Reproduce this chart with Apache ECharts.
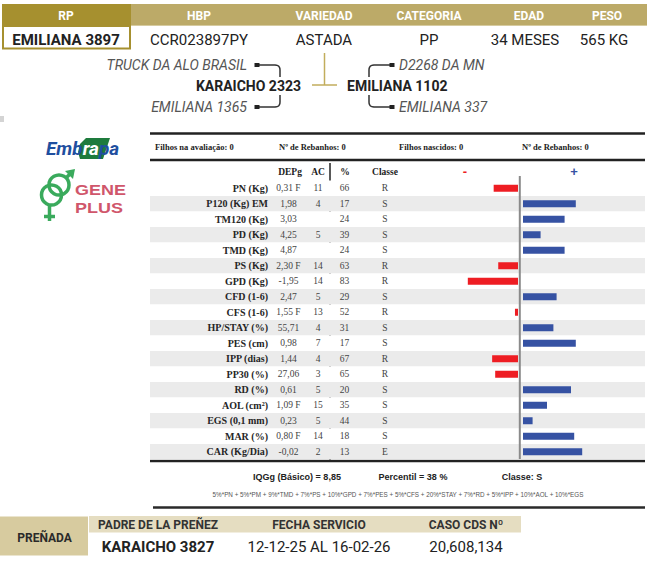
<!DOCTYPE html>
<html><head><meta charset="utf-8">
<script src="https://cdn.jsdelivr.net/npm/echarts@6/dist/echarts.min.js"></script>
<style>html,body{margin:0;padding:0;background:#fff}#c{width:672px;height:582px}</style>
</head><body><div id="c"></div>
<script>
// ---------- data ----------
const headerLabels = ['RP', 'HBP', 'VARIEDAD', 'CATEGORIA', 'EDAD', 'PESO'];
const headerValues = ['EMILIANA 3897', 'CCR023897PY', 'ASTADA', 'PP', '34 MESES', '565 KG'];
const sireSide = ['TRUCK DA ALO BRASIL', 'KARAICHO 2323', 'EMILIANA 1365'];
const damSide = ['D2268 DA MN', 'EMILIANA 1102', 'EMILIANA 337'];
const summaryItems = ['Filhos na avaliação: 0', 'Nº de Rebanhos: 0', 'Filhos nascidos: 0', 'Nº de Rebanhos: 0'];
const traits = ['PN (Kg)', 'P120 (Kg) EM', 'TM120 (Kg)', 'PD (Kg)', 'TMD (Kg)', 'PS (Kg)', 'GPD (Kg)', 'CFD (1-6)', 'CFS (1-6)', 'HP/STAY (%)', 'PES (cm)', 'IPP (dias)', 'PP30 (%)', 'RD (%)', 'AOL (cm²)', 'EGS (0,1 mm)', 'MAR (%)', 'CAR (Kg/Dia)'];
const depg = ['0,31 F', '1,98', '3,03', '4,25', '4,87', '2,30 F', '-1,95', '2,47', '1,55 F', '55,71', '0,98', '1,44', '27,06', '0,61', '1,09 F', '0,23', '0,80 F', '-0,02'];
const acc = ['11', '4', '', '5', '', '14', '14', '5', '13', '4', '7', '4', '3', '5', '15', '5', '14', '2'];
const pct = ['66', '17', '24', '39', '24', '63', '83', '29', '52', '31', '17', '67', '65', '20', '35', '44', '18', '13'];
const classe = ['R', 'S', 'S', 'S', 'S', 'R', 'R', 'S', 'R', 'S', 'S', 'R', 'R', 'S', 'S', 'S', 'S', 'E'];
// bar deviations (negative = red, positive = blue)
const barValues = [-16, 33, 26, 11, 26, -13, -33, 21, -2, 19, 33, -17, -15, 30, 15, 6, 32, 37];
const footerItems = ['IQGg (Básico) = 8,85', 'Percentil = 38 %', 'Classe: S'];
const formula = '5%*PN + 5%*PM + 9%*TMD + 7%*PS + 10%*GPD + 7%*PES + 5%*CFS + 20%*STAY + 7%*RD + 5%*IPP + 10%*AOL + 10%*EGS';
const pregLabels = ['PADRE DE LA PREÑEZ', 'FECHA SERVICIO', 'CASO CDS Nº'];
const pregValues = ['KARAICHO 3827', '12-12-25 AL 16-02-26', '20,608,134'];

// ---------- layout / style ----------
const SERIF = '"Liberation Serif", "Times New Roman", serif';
const SANS = 'Roboto, "Liberation Sans", Arial, sans-serif';
const ARIAL = '"Liberation Sans", Arial, sans-serif';
const TABLE_LEFT = 150, TABLE_RIGHT = 645, ROW_TOP = 180.5, ROW_H = 15.5;
const GOLD = '#bcaa68', GOLD_DARK = '#a6902f';

const chart = echarts.init(document.getElementById('c'), null, { renderer: 'svg' });

function txt(text, x, y, font, fill, align, extra) {
  return Object.assign({ type: 'text', silent: true, style: { text: text, x: x, y: y, font: font, fill: fill, textAlign: align || 'center', textVerticalAlign: 'middle' } }, extra || {});
}
function line(x1, y1, x2, y2, color, w) {
  return { type: 'line', silent: true, shape: { x1: x1, y1: y1, x2: x2, y2: y2 }, style: { stroke: color, lineWidth: w } };
}
function rect(x, y, w, h, fill, extra) {
  return Object.assign({ type: 'rect', silent: true, shape: { x: x, y: y, width: w, height: h }, style: { fill: fill } }, extra || {});
}
function bracket(pts, color) {
  return { type: 'polyline', silent: true, shape: { points: pts }, style: { stroke: color, lineWidth: 1.5, fill: null } };
}
function quad(a, c, b, n) {
  const out = [];
  for (let i = 0; i <= n; i++) {
    const t = i / n;
    out.push([(1 - t) * (1 - t) * a[0] + 2 * (1 - t) * t * c[0] + t * t * b[0], (1 - t) * (1 - t) * a[1] + 2 * (1 - t) * t * c[1] + t * t * b[1]]);
  }
  return out;
}

const g = [];
// header band
g.push(rect(3, 4, 644, 22, GOLD));
g.push(line(131, 25.5, 647, 25.5, '#d6cba0', 1));
g.push(rect(2, 4, 129, 45.5, GOLD_DARK));
g.push(rect(4, 27, 125, 20.5, '#ffffff'));
const headX = [66, 199, 324, 429, 529, 607];
const valX = [66, 199, 324, 429, 525, 604];
headerLabels.forEach((t, i) => g.push(txt(t, headX[i], 16, 'bold 12px ' + SANS, '#ffffff')));
headerValues.forEach((t, i) => g.push(txt(t, valX[i], 40, (i === 0 ? 'bold 15px ' : '15px ') + SANS, '#222')));

// pedigree
g.push(txt(sireSide[0], 247, 65, 'italic 14px ' + SANS, '#555', 'right'));
g.push(txt(sireSide[1], 301, 86, 'bold 14px ' + SANS, '#222', 'right'));
g.push(txt(sireSide[2], 247, 107, 'italic 14px ' + SANS, '#555', 'right'));
g.push(txt(damSide[0], 399, 65, 'italic 14px ' + SANS, '#555', 'left'));
g.push(txt(damSide[1], 347, 86, 'bold 14px ' + SANS, '#222', 'left'));
g.push(txt(damSide[2], 399, 107, 'italic 14px ' + SANS, '#555', 'left'));
g.push(bracket([[258, 65]].concat(quad([275, 65], [280, 65], [280, 70], 6), [[280, 77]]), '#333'));
g.push(bracket([[258, 107]].concat(quad([275, 107], [280, 107], [280, 102], 6), [[280, 95]]), '#333'));
g.push(bracket([[391, 65]].concat(quad([374, 65], [369, 65], [369, 70], 6), [[369, 77]]), '#333'));
g.push(bracket([[391, 107]].concat(quad([374, 107], [369, 107], [369, 102], 6), [[369, 95]]), '#333'));
[[254.5, 63], [254.5, 105], [389.5, 63], [389.5, 105]].forEach(p => g.push(rect(p[0], p[1], 5, 4, '#222')));
g.push(line(324.5, 53, 324.5, 85, '#c2ad5c', 1.5));
g.push(line(312, 85, 337, 85, '#c2ad5c', 1.5));

// small grey mark
g.push(rect(0, 116, 4, 6, '#d4d4d4'));

// Embrapa logo
g.push({ type: 'polygon', silent: true, shape: { points: [[86, 138], [110, 138], [103, 159], [80, 159], [78, 152], [80, 144]] }, style: { fill: '#1e7b3d' } });
g.push({ type: 'text', silent: true, style: { text: '{b|Emb}{w|ra}{b|pa}', x: 46, y: 148, font: 'italic bold 19px ' + SANS, textAlign: 'left', textVerticalAlign: 'middle', rich: { b: { fill: '#1f4f9f', font: 'italic bold 19px ' + SANS }, w: { fill: '#ffffff', font: 'italic bold 19px ' + SANS } } } });

// GenePlus logo
const GP = '#3aaa5c';
g.push({ type: 'circle', silent: true, shape: { cx: 59, cy: 185, r: 10 }, style: { stroke: GP, lineWidth: 3.5, fill: null } });
g.push({ type: 'circle', silent: true, shape: { cx: 51.5, cy: 195, r: 10 }, style: { stroke: GP, lineWidth: 3.5, fill: null } });
g.push(line(66, 178, 71, 173, GP, 3.5));
g.push({ type: 'polygon', silent: true, shape: { points: [[75, 169], [65, 171], [73, 179]] }, style: { fill: GP } });
g.push(line(49.5, 205, 49.5, 221, GP, 3.5));
g.push(line(44, 216.5, 55, 216.5, GP, 3.5));
g.push(txt('GENE', 75, 190, 'bold 15px ' + ARIAL, '#d0566b', 'left', { scaleX: 1.2, originX: 75, originY: 190 }));
g.push(txt('PLUS', 75, 208, 'bold 15px ' + ARIAL, '#d0566b', 'left', { scaleX: 1.2, originX: 75, originY: 208 }));

// table frame
g.push(line(TABLE_LEFT, 133.5, TABLE_RIGHT, 133.5, '#222', 2.5));
g.push(line(TABLE_LEFT, 160, TABLE_RIGHT, 160, '#222', 2.5));
const sumX = [155, 279, 399, 522];
summaryItems.forEach((t, i) => g.push(txt(t, sumX[i], 146.5, 'bold 8.5px ' + SERIF, '#222', 'left')));
g.push(txt('DEPg', 290, 172, 'bold 9.5px ' + SERIF, '#222'));
g.push(txt('AC', 318, 172, 'bold 9.5px ' + SERIF, '#222'));
g.push(txt('%', 345, 172, 'bold 9.5px ' + SERIF, '#222'));
g.push(txt('Classe', 385, 172, 'bold 9.5px ' + SERIF, '#222'));
g.push(txt('-', 465, 171, 'bold 13px ' + ARIAL, '#ee1d23'));
g.push(txt('+', 574, 171, 'bold 13px ' + ARIAL, '#3652a3'));
g.push(line(330, 163, 330, 460, '#222', 1.5));
g.push(Object.assign(line(519.8, 176, 519.8, 459, '#8a8a8a', 2), { z: 100 }));
g.push(line(TABLE_LEFT, 461, TABLE_RIGHT, 461, '#222', 2.5));
const footX = [297, 413, 522];
footerItems.forEach((t, i) => g.push(txt(t, footX[i], 477, 'bold 9px ' + ARIAL, '#222')));
g.push(txt(formula, 398, 494.5, '6.3px ' + ARIAL, '#555'));
g.push(line(153, 507.5, TABLE_RIGHT, 507.5, '#2a2a2a', 2.5));

// pregnancy block
g.push(rect(0, 516.5, 88, 39, '#d7cb9f'));
g.push(txt('PREÑADA', 44.5, 537.5, 'bold 12px ' + SANS, '#2a2a2a'));
g.push(rect(89, 516, 432, 16.5, '#e5ddc1'));
const pregX = [158, 319, 466];
pregLabels.forEach((t, i) => g.push(txt(t, pregX[i], 525, 'bold 12px ' + SANS, '#333')));
pregValues.forEach((t, i) => g.push(txt(t, pregX[i], 546.5, (i === 0 ? 'bold 15px ' : '15px ') + SANS, '#222')));

// ---------- chart (table text columns + bars via axes) ----------
function colAxis(cx, vals, font, color) {
  return {
    gridIndex: 0, type: 'category', data: traits, inverse: true, position: 'left',
    offset: -(cx - TABLE_LEFT),
    axisLine: { show: false }, axisTick: { show: false }, splitLine: { show: false },
    axisLabel: { interval: 0, margin: 0, align: 'center', formatter: (v, i) => vals[i], fontFamily: SERIF, fontSize: font.size, fontWeight: font.weight, color: color }
  };
}
const gridH = ROW_H * traits.length;
const option = {
  backgroundColor: '#ffffff',
  animation: false,
  grid: [
    { left: TABLE_LEFT, top: ROW_TOP, width: TABLE_RIGHT - TABLE_LEFT, height: gridH },
    { left: 438, top: ROW_TOP, width: 80, height: gridH },
    { left: 523, top: ROW_TOP, width: 80, height: gridH }
  ],
  xAxis: [
    { gridIndex: 0, type: 'value', min: 0, max: 1, show: false },
    { gridIndex: 1, type: 'value', min: -52.6, max: 0, show: false },
    { gridIndex: 2, type: 'value', min: 0, max: 50, show: false }
  ],
  yAxis: [
    {
      gridIndex: 0, type: 'category', data: traits, inverse: true, position: 'left',
      offset: -(268 - TABLE_LEFT),
      axisLine: { show: false }, axisTick: { show: false }, splitLine: { show: false },
      splitArea: { show: true, areaStyle: { color: ['#ffffff', '#ebebeb'] } },
      axisLabel: { interval: 0, margin: 0, align: 'right', fontFamily: SERIF, fontSize: 10, fontWeight: 'bold', color: '#262626' }
    },
    colAxis(288.5, depg, { size: 9.5, weight: 'normal' }, '#444'),
    colAxis(318, acc, { size: 9.5, weight: 'normal' }, '#444'),
    colAxis(344.5, pct, { size: 9.5, weight: 'normal' }, '#444'),
    colAxis(385, classe, { size: 9.5, weight: 'normal' }, '#444'),
    { gridIndex: 1, type: 'category', data: traits, inverse: true, show: false },
    { gridIndex: 2, type: 'category', data: traits, inverse: true, show: false }
  ],
  series: [
    { type: 'scatter', xAxisIndex: 0, yAxisIndex: 0, data: [], silent: true },
    {
      type: 'bar', xAxisIndex: 1, yAxisIndex: 5, barWidth: 7, silent: true,
      itemStyle: { color: '#ee1d23' },
      data: barValues.map(v => (v < 0 ? v : '-'))
    },
    {
      type: 'bar', xAxisIndex: 2, yAxisIndex: 6, barWidth: 7, silent: true,
      itemStyle: { color: '#3652a3' },
      data: barValues.map(v => (v > 0 ? v : '-'))
    }
  ],
  graphic: { elements: g }
};
chart.setOption(option);
</script>
</body></html>
